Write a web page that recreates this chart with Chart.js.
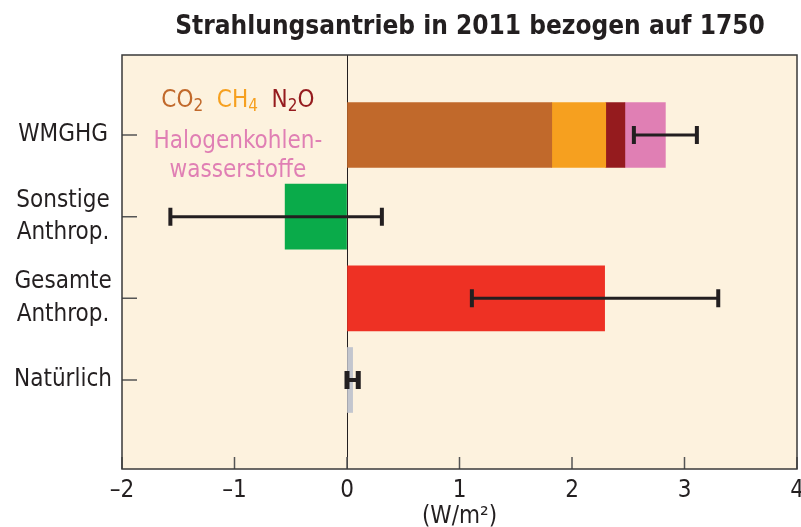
<!DOCTYPE html>
<html>
<head>
<meta charset="utf-8">
<script src="https://cdn.jsdelivr.net/npm/chart.js@4"></script>
<style>
html, body { margin: 0; padding: 0; background: #fff; }
#wrap { width: 801px; height: 527px; }
</style>
</head>
<body>
<div id="wrap"><canvas id="chart"></canvas></div>
<script>
// Data (W/m2)
const categories = [['WMGHG'], ['Sonstige', 'Anthrop.'], ['Gesamte', 'Anthrop.'], ['Natürlich']];
const wmghgParts = ['CO2', 'CH4', 'N2O', 'Halogenkohlenwasserstoffe'];
const wmghgValues = [1.82, 0.48, 0.17, 0.36];
const otherRows = [1, 2, 3];
const otherValues = [-0.55, 2.29, 0.05];
const errLow = [2.55, -1.57, 1.11, 0.00];
const errHigh = [3.11, 0.31, 3.30, 0.10];
const xTickValues = [-2, -1, 0, 1, 2, 3, 4];
const xTickLabels = ['–2', '–1', '0', '1', '2', '3', '4'];

const FONT = "'Liberation Sans Narrow', 'DejaVu Sans Condensed', 'Open Sans', sans-serif";
const INK = '#231f20';
const CREAM = '#fdf2de';
const partColors = ['#c1692b', '#f6a01f', '#951b1e', '#e07fb4'];
const otherColors = ['#0aab4a', '#ee3124', '#c3c6ce'];

// stacked WMGHG segments as floating bars
const datasets = [];
let acc = 0;
wmghgValues.forEach((v, i) => {
    datasets.push({
        label: wmghgParts[i],
        data: [{ y: 0, x: [acc, acc + v] }],
        backgroundColor: partColors[i]
    });
    acc += v;
});
datasets.push({
    label: 'Sonstige',
    data: otherRows.map((r, i) => ({ y: r, x: [0, otherValues[i]] })),
    backgroundColor: otherColors
});

function drawRich(ctx, parts, cx, baseline, size) {
    const subSize = Math.round(size * 0.72);
    let total = 0;
    parts.forEach(p => {
        ctx.font = `${p.sub ? subSize : size}px ${FONT}`;
        p.w = ctx.measureText(p.t).width;
        total += p.w;
    });
    let x = cx - total / 2;
    ctx.textAlign = 'left';
    ctx.textBaseline = 'alphabetic';
    parts.forEach(p => {
        ctx.font = `${p.sub ? subSize : size}px ${FONT}`;
        ctx.fillStyle = p.c;
        ctx.fillText(p.t, x, baseline + (p.sub ? size * 0.18 : 0));
        x += p.w;
    });
}

const decor = {
    id: 'decor',
    beforeDraw(chart) {
        const { ctx, chartArea: a } = chart;
        ctx.save();
        ctx.fillStyle = CREAM;
        ctx.fillRect(a.left, a.top, a.right - a.left, a.bottom - a.top);
        ctx.restore();
    },
    afterDatasetsDraw(chart) {
        const { ctx, chartArea: a } = chart;
        const xs = chart.scales.x, ys = chart.scales.y;
        ctx.save();

        // error bars
        ctx.strokeStyle = INK;
        errLow.forEach((lo, i) => {
            const y = ys.getPixelForValue(i);
            const x1 = xs.getPixelForValue(lo), x2 = xs.getPixelForValue(errHigh[i]);
            const small = i === 3;
            ctx.lineWidth = small ? 4 : 3;
            ctx.beginPath();
            ctx.moveTo(x1, y); ctx.lineTo(x2, y);
            ctx.stroke();
            ctx.lineWidth = small ? 5 : 4;
            ctx.beginPath();
            ctx.moveTo(x1, y - 9); ctx.lineTo(x1, y + 9);
            ctx.moveTo(x2, y - 9); ctx.lineTo(x2, y + 9);
            ctx.stroke();
        });

        // inner tick marks
        ctx.lineWidth = 1.5;
        ctx.strokeStyle = '#555';
        ctx.beginPath();
        xTickValues.forEach(v => {
            const x = xs.getPixelForValue(v);
            ctx.moveTo(x, a.bottom); ctx.lineTo(x, a.bottom - 12);
        });
        categories.forEach((c, i) => {
            const y = ys.getPixelForValue(i);
            ctx.moveTo(a.left, y); ctx.lineTo(a.left + 15, y);
        });
        ctx.stroke();

        // frame
        ctx.lineWidth = 1.5;
        ctx.strokeStyle = '#3a3a3a';
        ctx.strokeRect(a.left, a.top, a.right - a.left, a.bottom - a.top);

        // in-plot legend text
        const cx = xs.getPixelForValue(-0.97);
        const y0 = ys.getPixelForValue(0);
        drawRich(ctx, [
            { t: 'CO', c: partColors[0] }, { t: '2', c: partColors[0], sub: true },
            { t: '  CH', c: partColors[1] }, { t: '4', c: partColors[1], sub: true },
            { t: '  N', c: partColors[2] }, { t: '2', c: partColors[2], sub: true },
            { t: 'O', c: partColors[2] }
        ], cx, y0 - 28, 24);
        ctx.font = `24px ${FONT}`;
        ctx.fillStyle = partColors[3];
        ctx.textAlign = 'center';
        ctx.fillText('Halogenkohlen-', cx, y0 + 13);
        ctx.fillText('wasserstoffe', cx, y0 + 42);

        // title
        ctx.font = `bold 26px ${FONT}`;
        ctx.fillStyle = INK;
        ctx.textAlign = 'center';
        ctx.textBaseline = 'middle';
        ctx.fillText('Strahlungsantrieb in 2011 bezogen auf 1750', 470, 27);
        ctx.restore();
    }
};

new Chart(document.getElementById('chart'), {
    type: 'bar',
    data: { datasets: datasets },
    options: {
        indexAxis: 'y',
        responsive: true,
        maintainAspectRatio: false,
        animation: false,
        layout: { padding: { top: 55, right: 4, left: 0, bottom: 0 } },
        datasets: { bar: { barThickness: 65, grouped: false, borderWidth: 0 } },
        plugins: {
            legend: { display: false },
            tooltip: { enabled: false }
        },
        scales: {
            x: {
                type: 'linear',
                min: -2,
                max: 4,
                afterBuildTicks: s => { s.ticks = xTickValues.map(v => ({ value: v })); },
                afterFit: s => { s.height = 58; s.paddingRight = 0; s.paddingLeft = 0; },
                grid: {
                    drawTicks: false,
                    lineWidth: 1,
                    color: c => (c.tick && c.tick.value === 0 ? INK : 'rgba(0,0,0,0)')
                },
                border: { display: false },
                ticks: {
                    padding: 7,
                    color: INK,
                    font: { family: FONT, size: 24 },
                    callback: v => xTickLabels[xTickValues.indexOf(v)]
                },
                title: {
                    display: true,
                    text: '(W/m²)',
                    color: INK,
                    font: { family: FONT, size: 24 },
                    padding: { top: 0, bottom: -4 }
                }
            },
            y: {
                type: 'linear',
                reverse: true,
                offset: false,
                min: -0.98,
                max: 4.09,
                afterBuildTicks: s => { s.ticks = categories.map((c, i) => ({ value: i })); },
                afterFit: s => { s.width = 122; },
                grid: { display: false, drawTicks: false },
                border: { display: false },
                ticks: {
                    padding: 10,
                    crossAlign: 'center',
                    color: INK,
                    font: { family: FONT, size: 24, lineHeight: 1.35 },
                    callback: v => categories[v]
                }
            }
        }
    },
    plugins: [decor]
});
</script>
</body>
</html>
